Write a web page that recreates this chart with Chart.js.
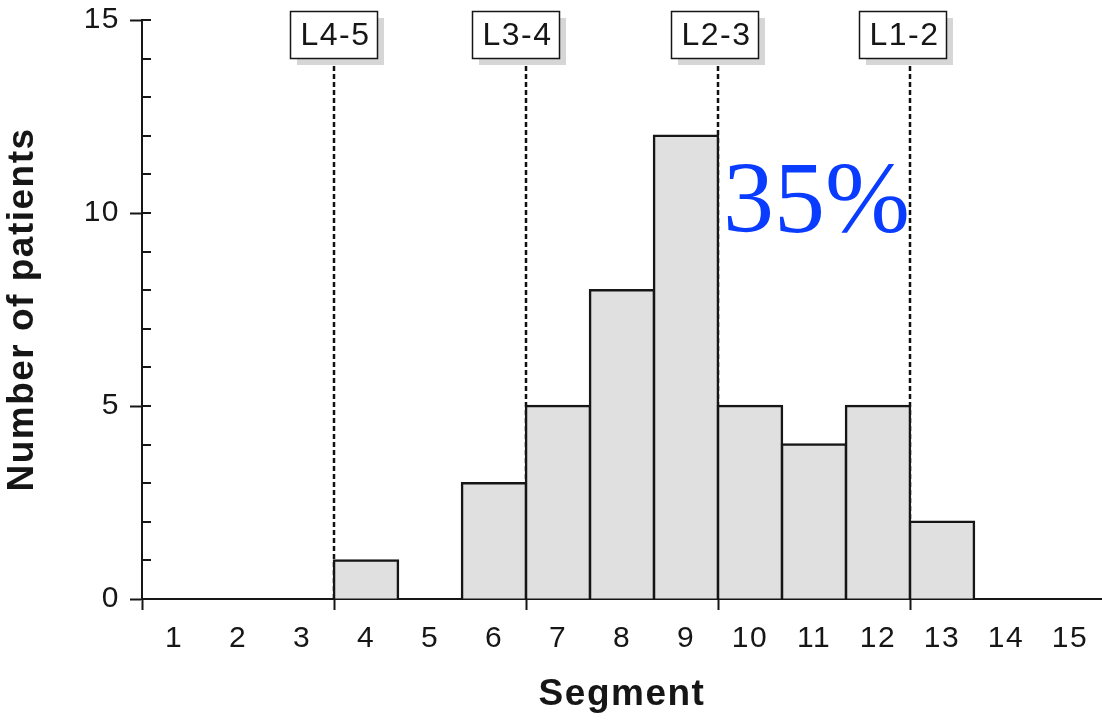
<!DOCTYPE html>
<html>
<head>
<meta charset="utf-8">
<script src="https://cdn.jsdelivr.net/npm/chart.js@4/dist/chart.umd.min.js"></script>
<style>
  html, body { margin: 0; padding: 0; background: #ffffff; }
  #wrap { width: 1102px; height: 721px; position: relative; }
</style>
</head>
<body>
<div id="wrap"><canvas id="chart"></canvas></div>
<script>
// Segment numbers along the spine and patient counts per segment
const segments = ['1', '2', '3', '4', '5', '6', '7', '8', '9', '10', '11', '12', '13', '14', '15'];
const patients = [0, 0, 0, 1, 0, 3, 5, 8, 12, 5, 4, 5, 2, 0, 0];

// Disc levels, marked at the boundary between two segments
const levelNames = ['L4-5', 'L3-4', 'L2-3', 'L1-2'];
const levelBoundaries = [3.5, 6.5, 9.5, 12.5];

// Percentage note written beside the L2-3 level
const noteText = '35%';
const noteValue = 9.5;

const INK = '#161616';

// segment number (1-based, may be fractional) -> category index
const segIndex = s => s - 1;

// slightly open tracking for all the sans-serif text
const tracking = {
  id: 'tracking',
  beforeDraw(chart) {
    if ('letterSpacing' in chart.ctx) chart.ctx.letterSpacing = '1.5px';
  }
};

const levelMarkers = {
  id: 'levelMarkers',
  beforeDatasetsDraw(chart, args, opts) {
    const { ctx, scales: { x, y } } = chart;
    ctx.save();
    ctx.strokeStyle = '#111111';
    ctx.lineWidth = 2.5;
    ctx.setLineDash([5, 3]);
    levelBoundaries.forEach(b => {
      const px = Math.round(x.getPixelForValue(segIndex(b)));
      ctx.beginPath();
      ctx.moveTo(px, opts.boxTop + opts.boxH);
      ctx.lineTo(px, y.getPixelForValue(0));
      ctx.stroke();
    });
    ctx.restore();
  },
  afterDraw(chart, args, opts) {
    const { ctx, scales: { x, y } } = chart;
    ctx.save();

    // inner halves of the y-axis tick marks, one per patient
    ctx.strokeStyle = INK;
    ctx.lineWidth = 2;
    y.ticks.forEach(t => {
      const py = Math.round(y.getPixelForValue(t.value));
      ctx.beginPath();
      ctx.moveTo(x.left, py);
      ctx.lineTo(x.left + 9, py);
      ctx.stroke();
    });

    // boxed level names with drop shadow
    ctx.font = '32px "Liberation Sans", Arial, sans-serif';
    ctx.textAlign = 'center';
    ctx.textBaseline = 'middle';
    levelBoundaries.forEach((b, i) => {
      const cx = x.getPixelForValue(segIndex(b)) + opts.shift[i];
      const left = Math.round(cx - opts.boxW / 2);
      ctx.fillStyle = '#d6d6d6';
      ctx.fillRect(left + 7, opts.boxTop + 7, opts.boxW, opts.boxH);
      ctx.fillStyle = '#ffffff';
      ctx.fillRect(left, opts.boxTop, opts.boxW, opts.boxH);
      ctx.strokeStyle = INK;
      ctx.lineWidth = 1.5;
      ctx.setLineDash([]);
      ctx.strokeRect(left + 0.5, opts.boxTop + 0.5, opts.boxW, opts.boxH);
      ctx.fillStyle = INK;
      ctx.fillText(levelNames[i], left + opts.boxW / 2 + 2, opts.boxTop + opts.boxH / 2 + 2);
    });

    // note beside the L2-3 level
    if ('letterSpacing' in ctx) ctx.letterSpacing = '0px';
    const l23 = x.getPixelForValue(segIndex(levelBoundaries[2]));
    ctx.fillStyle = '#0a3cff';
    ctx.font = '102px "Liberation Serif", "Times New Roman", serif';
    ctx.textAlign = 'left';
    ctx.textBaseline = 'alphabetic';
    ctx.fillText(noteText, l23 + 5, y.getPixelForValue(noteValue));
    ctx.restore();
  }
};

new Chart(document.getElementById('chart'), {
  type: 'bar',
  data: {
    labels: segments,
    datasets: [{
      data: patients,
      backgroundColor: '#e0e0e0',
      borderColor: INK,
      borderWidth: 2.5,
      borderSkipped: 'start',
      inflateAmount: ctx => (ctx.raw === 0 ? 0 : 1.25),
      barPercentage: 1,
      categoryPercentage: 1
    }]
  },
  options: {
    responsive: true,
    maintainAspectRatio: false,
    animation: false,
    events: [],
    layout: { padding: { top: 20, right: 0, left: 0, bottom: 0 } },
    plugins: {
      legend: { display: false },
      tooltip: { enabled: false },
      levelMarkers: { boxTop: 11, boxH: 47, boxW: 87, shift: [-1, -11, -4, -8] }
    },
    scales: {
      x: {
        z: 1,
        offset: true,
        afterFit: s => { s.height = 122; s.paddingLeft = 0; s.paddingRight = 0; },
        border: { display: true, color: INK, width: 2 },
        grid: {
          offset: true,
          drawOnChartArea: false,
          drawTicks: true,
          tickLength: 11,
          tickWidth: 2,
          tickColor: ctx => (ctx.index % 3 === 0 ? INK : 'rgba(0,0,0,0)')
        },
        ticks: {
          color: INK,
          padding: 11,
          maxRotation: 0,
          autoSkip: false,
          font: { family: '"Liberation Sans", Arial, sans-serif', size: 30 }
        },
        title: {
          display: true,
          text: 'Segment',
          color: INK,
          padding: { top: 0, bottom: 4 },
          font: { family: '"Liberation Sans", Arial, sans-serif', size: 37, weight: 'bold' }
        }
      },
      y: {
        min: 0,
        max: 15,
        afterFit: s => { s.width = 142; s.paddingTop = 0; s.paddingBottom = 0; },
        border: { display: true, color: INK, width: 2 },
        grid: {
          drawOnChartArea: false,
          drawTicks: true,
          tickLength: 12,
          tickWidth: 2,
          tickColor: ctx => (ctx.tick && ctx.tick.value % 5 === 0 ? INK : 'rgba(0,0,0,0)')
        },
        ticks: {
          stepSize: 1,
          autoSkip: false,
          color: INK,
          padding: 10,
          callback: v => (v % 5 === 0 ? String(v) : ''),
          font: { family: '"Liberation Sans", Arial, sans-serif', size: 30 }
        },
        title: {
          display: true,
          text: 'Number of patients',
          color: INK,
          padding: { top: 1, bottom: 0 },
          font: { family: '"Liberation Sans", Arial, sans-serif', size: 37, weight: 'bold' }
        }
      }
    }
  },
  plugins: [tracking, levelMarkers]
});
</script>
</body>
</html>
